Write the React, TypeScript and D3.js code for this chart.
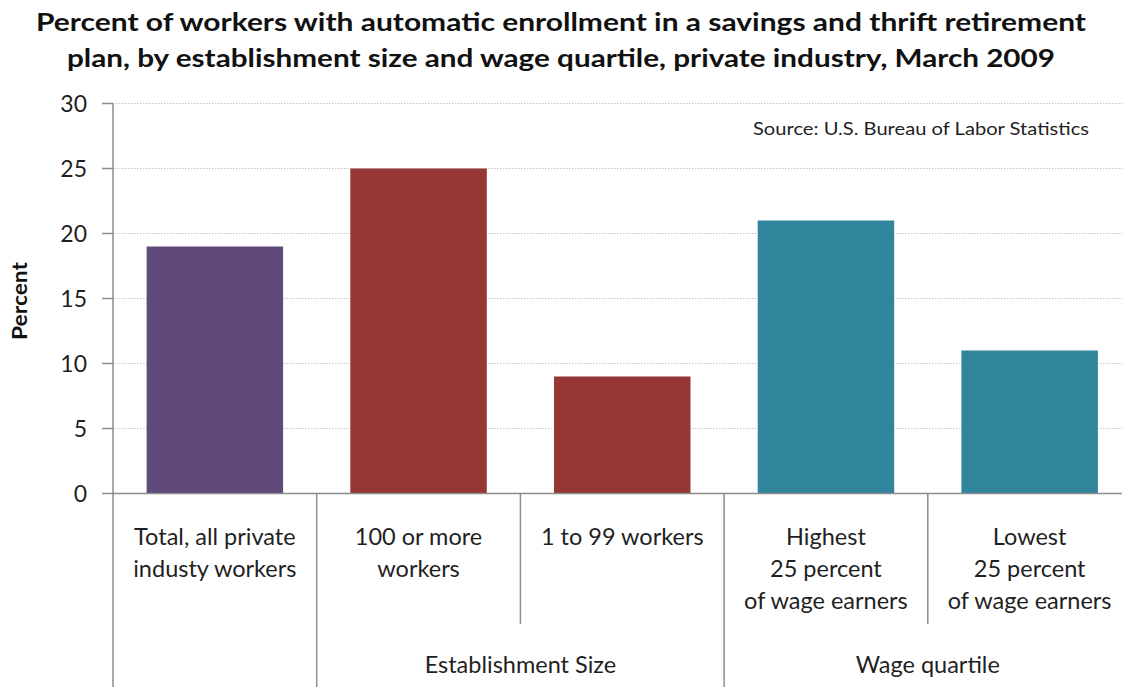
import React from "react";
import * as d3 from "d3";

const categories = ["total", "large", "small", "high", "low"];
const categoryLabels: string[][] = [
  ["Total, all private", "industy workers"],
  ["100 or more", "workers"],
  ["1 to 99 workers"],
  ["Highest", "25 percent", "of wage earners"],
  ["Lowest", "25 percent", "of wage earners"],
];
const values = [19, 25, 9, 21, 11];
const barColors = ["#604a7b", "#953735", "#953735", "#31859c", "#31859c"];
const yTicks = [0, 5, 10, 15, 20, 25, 30];
const groups = [
  { label: "Establishment Size", from: 1, to: 2 },
  { label: "Wage quartile", from: 3, to: 4 },
];
const titleLines = [
  "Percent of workers with automatic enrollment in a savings and thrift retirement",
  "plan, by establishment size and wage quartile, private industry, March 2009",
];
const sourceText = "Source:  U.S. Bureau of Labor Statistics";
const yAxisTitle = "Percent";

const W = 1122;
const H = 687;
const FONT = "Lato, 'Open Sans', 'DejaVu Sans', sans-serif";

export default function App() {
  const x0 = 113;
  const x1 = 1131.5;
  const x = d3.scaleBand<string>().domain(categories).range([x0, x1]).paddingInner(0.33).paddingOuter(0.165);
  const band = d3.scaleBand<string>().domain(categories).range([x0, x1]).padding(0);
  const y = d3.scaleLinear().domain([0, 30]).range([493.5, 103.5]);
  const axisColor = "#8c8c8c";
  const textColor = "#1f1f1f";

  return (
    <svg width={W} height={H} style={{ position: "absolute", left: 0, top: 0, background: "#fff" }} fontFamily={FONT}>
      <rect x={0} y={0} width={W} height={H} fill="#fff" />
      {/* Title */}
      {titleLines.map((t, i) => (
        <text
          key={i}
          x={561}
          y={31 + i * 36}
          textAnchor="middle"
          fontSize={25}
          fontWeight="bold"
          fill="#111"
          textLength={i === 0 ? 1050 : 988}
          lengthAdjust="spacingAndGlyphs"
        >
          {t}
        </text>
      ))}
      {/* Gridlines */}
      {yTicks.filter((t) => t > 0).map((t) => (
        <line key={t} x1={x0} x2={W} y1={y(t)} y2={y(t)} stroke="#c4c4c4" strokeWidth={1} strokeDasharray="1.5,1.5" />
      ))}
      {/* Bars */}
      {categories.map((c, i) => (
        <rect key={c} x={x(c)} y={y(values[i])} width={x.bandwidth()} height={y(0) - y(values[i])} fill={barColors[i]} />
      ))}
      {/* Y axis */}
      <line x1={x0} x2={x0} y1={y(30)} y2={H} stroke={axisColor} strokeWidth={1.5} />
      {yTicks.map((t) => (
        <g key={t}>
          <line x1={x0 - 11} x2={x0} y1={y(t)} y2={y(t)} stroke={axisColor} strokeWidth={1.5} />
          <text x={87} y={y(t) + 8} textAnchor="end" fontSize={23} fill={textColor}>
            {t}
          </text>
        </g>
      ))}
      <text
        transform={`translate(27,301) rotate(-90)`}
        textAnchor="middle"
        fontSize={21}
        fontWeight="bold"
        fill="#111"
        textLength={78}
        lengthAdjust="spacingAndGlyphs"
      >
        {yAxisTitle}
      </text>
      {/* X axis */}
      <line x1={x0} x2={W} y1={y(0)} y2={y(0)} stroke={axisColor} strokeWidth={1.5} />
      {categories.map((c, i) => {
        if (i === 0) return null;
        const bx = band(c)!;
        const long = groups.some((g) => g.from === i);
        return (
          <line key={c} x1={bx} x2={bx} y1={y(0)} y2={long ? H : 624} stroke={axisColor} strokeWidth={1.5} />
        );
      })}
      {categories.map((c, i) => {
        const cx = band(c)! + band.bandwidth() / 2;
        return categoryLabels[i].map((l, j) => (
          <text key={c + j} x={cx} y={545 + j * 32} textAnchor="middle" fontSize={23.5} fill={textColor}>
            {l}
          </text>
        ));
      })}
      {groups.map((g) => {
        const gx = (band(categories[g.from])! + band(categories[g.to])! + band.bandwidth()) / 2;
        return (
          <text key={g.label} x={gx} y={673} textAnchor="middle" fontSize={23.5} fill={textColor}>
            {g.label}
          </text>
        );
      })}
      {/* Source */}
      <text
        x={1089}
        y={135}
        textAnchor="end"
        fontSize={18}
        fill={textColor}
        textLength={336}
        lengthAdjust="spacingAndGlyphs"
      >
        {sourceText}
      </text>
    </svg>
  );
}
